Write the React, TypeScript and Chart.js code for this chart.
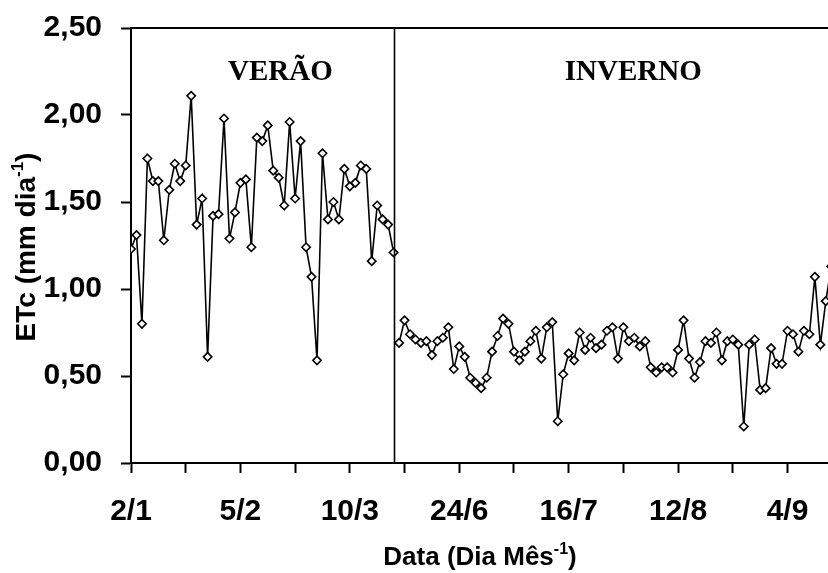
import React, { useEffect, useRef } from 'react';
import { Chart, registerables } from 'chart.js';

Chart.register(...registerables);

// ETc (mm dia-1) – summer (VERÃO) daily series
const veraoValues = [
  1.23, 1.31, 0.80, 1.75, 1.62, 1.62, 1.28, 1.57, 1.72, 1.62,
  1.71, 2.11, 1.37, 1.52, 0.61, 1.42, 1.43, 1.98, 1.29, 1.44,
  1.61, 1.63, 1.24, 1.87, 1.85, 1.94, 1.68, 1.64, 1.48, 1.96,
  1.52, 1.85, 1.24, 1.07, 0.59, 1.78, 1.40, 1.50, 1.40, 1.69,
  1.59, 1.61, 1.71, 1.69, 1.16, 1.48, 1.40, 1.37, 1.21,
];

// ETc (mm dia-1) – winter (INVERNO) daily series
const invernoValues = [
  0.69, 0.82, 0.74, 0.71, 0.69, 0.70, 0.62, 0.70, 0.72, 0.78,
  0.54, 0.67, 0.61, 0.49, 0.46, 0.43, 0.49, 0.64, 0.73, 0.83,
  0.80, 0.64, 0.59, 0.64, 0.70, 0.76, 0.60, 0.78, 0.81, 0.24,
  0.51, 0.63, 0.59, 0.75, 0.65, 0.72, 0.66, 0.68, 0.76, 0.78,
  0.60, 0.78, 0.70, 0.72, 0.67, 0.70, 0.55, 0.52, 0.55, 0.55,
  0.52, 0.65, 0.82, 0.60, 0.49, 0.58, 0.70, 0.69, 0.75, 0.59,
  0.70, 0.71, 0.68, 0.21, 0.68, 0.71, 0.42, 0.43, 0.66, 0.57,
  0.57, 0.76, 0.74, 0.64, 0.76, 0.74, 1.07, 0.68, 0.93, 1.13,
];

// x-axis date labels (every 20th day), tick marks every 10th
const tickLabels = ['2/1', '5/2', '10/3', '24/6', '16/7', '12/8', '4/9'];
const labelEvery = 20;
const tickEvery = 10;

const seasonLabels = ['VERÃO', 'INVERNO'];
const yTitle = ['ETc (mm dia', '-1', ')'];
const xTitle = ['Data (Dia Mês', '-1', ')'];

const SANS = '"Liberation Sans", Arial, sans-serif';
const SERIF = '"Liberation Serif", "Times New Roman", serif';

function drawSupText(ctx: CanvasRenderingContext2D, parts: string[], size: number) {
  const supSize = Math.round(size * 0.6);
  ctx.font = `bold ${size}px ${SANS}`;
  const w1 = ctx.measureText(parts[0]).width;
  const w3 = ctx.measureText(parts[2]).width;
  ctx.font = `bold ${supSize}px ${SANS}`;
  const w2 = ctx.measureText(parts[1]).width;
  const total = w1 + w2 + w3;
  let x = -total / 2;
  ctx.textAlign = 'left';
  ctx.textBaseline = 'alphabetic';
  ctx.font = `bold ${size}px ${SANS}`;
  ctx.fillText(parts[0], x, 0);
  x += w1;
  ctx.font = `bold ${supSize}px ${SANS}`;
  ctx.fillText(parts[1], x, -size * 0.42);
  x += w2;
  ctx.font = `bold ${size}px ${SANS}`;
  ctx.fillText(parts[2], x, 0);
}

const overlayPlugin = {
  id: 'overlay',
  afterDraw(chart: any) {
    const { ctx, chartArea, scales } = chart;
    const x = scales.x;
    const y = scales.y;
    ctx.save();
    ctx.strokeStyle = '#000';
    // top border of plot area
    ctx.lineWidth = 2;
    ctx.beginPath();
    ctx.moveTo(chartArea.left, chartArea.top);
    ctx.lineTo(chartArea.right, chartArea.top);
    ctx.stroke();
    // season divider
    const dx = Math.round(x.getPixelForValue(veraoValues.length - 1)) + 0.5;
    ctx.lineWidth = 1.6;
    ctx.beginPath();
    ctx.moveTo(dx, chartArea.top);
    ctx.lineTo(dx, chartArea.bottom);
    ctx.stroke();
    // season labels
    ctx.fillStyle = '#000';
    ctx.font = `bold 29px ${SERIF}`;
    ctx.textAlign = 'center';
    ctx.textBaseline = 'alphabetic';
    ctx.fillText(seasonLabels[0], x.getPixelForValue(27.3), y.getPixelForValue(2.2));
    ctx.fillText(seasonLabels[1], x.getPixelForValue(91.8), y.getPixelForValue(2.2));
    // y title
    ctx.save();
    ctx.translate(35, 247);
    ctx.rotate(-Math.PI / 2);
    drawSupText(ctx, yTitle, 28);
    ctx.restore();
    // x title
    ctx.save();
    ctx.translate(480, 565);
    drawSupText(ctx, xTitle, 26);
    ctx.restore();
    ctx.restore();
  },
};

export default function App() {
  const ref = useRef<HTMLCanvasElement | null>(null);

  useEffect(() => {
    if (!ref.current) return;
    const invernoStart = veraoValues.length;
    const common = {
      borderColor: '#000',
      borderWidth: 1.6,
      pointStyle: 'rectRot' as const,
      pointRadius: 4.2,
      pointBorderWidth: 1.6,
      pointBackgroundColor: '#fff',
      pointBorderColor: '#000',
      tension: 0,
      fill: false,
    };
    const chart = new Chart(ref.current, {
      type: 'line',
      data: {
        datasets: [
          {
            label: 'Verão',
            data: veraoValues.map((v, i) => ({ x: i, y: v })),
            ...common,
          },
          {
            label: 'Inverno',
            data: invernoValues.map((v, i) => ({ x: invernoStart + i, y: v })),
            ...common,
          },
        ],
      },
      options: {
        responsive: false,
        animation: false,
        devicePixelRatio: 1,
        events: [],
        layout: { autoPadding: false, padding: { top: 28, left: 0, right: 0, bottom: 0 } },
        plugins: { legend: { display: false }, tooltip: { enabled: false }, title: { display: false } },
        scales: {
          x: {
            type: 'linear',
            min: 0,
            max: 127.4,
            afterBuildTicks: (scale: any) => {
              const t = [];
              for (let v = 0; v <= (tickLabels.length - 1) * labelEvery; v += tickEvery) t.push({ value: v });
              scale.ticks = t;
            },
            afterFit: (scale: any) => {
              scale.height = 110;
              scale.paddingLeft = 0;
              scale.paddingRight = 0;
            },
            grid: {
              drawOnChartArea: false,
              drawTicks: true,
              tickLength: 10,
              tickWidth: 2,
              color: '#000',
            },
            border: { display: true, color: '#000', width: 2 },
            ticks: {
              autoSkip: false,
              maxRotation: 0,
              padding: 21,
              color: '#000',
              font: { family: SANS, size: 30, weight: 'bold' },
              callback: (v: any) => (v % labelEvery === 0 ? tickLabels[v / labelEvery] : ''),
            },
          },
          y: {
            type: 'linear',
            min: 0,
            max: 2.5,
            afterFit: (scale: any) => {
              scale.width = 131;
              scale.paddingTop = 0;
              scale.paddingBottom = 0;
            },
            grid: {
              drawOnChartArea: false,
              drawTicks: true,
              tickLength: 10,
              tickWidth: 2,
              color: '#000',
            },
            border: { display: true, color: '#000', width: 2 },
            ticks: {
              stepSize: 0.5,
              padding: 19,
              color: '#000',
              font: { family: SANS, size: 30, weight: 'bold' },
              callback: (v: any) => Number(v).toFixed(2).replace('.', ','),
            },
          },
        },
      },
      plugins: [overlayPlugin],
    });
    return () => chart.destroy();
  }, []);

  return (
    <div style={{ position: 'fixed', left: 0, top: 0, width: 828, height: 573, background: '#fff' }}>
      <canvas ref={ref} width={828} height={573} style={{ display: 'block' }} />
    </div>
  );
}
